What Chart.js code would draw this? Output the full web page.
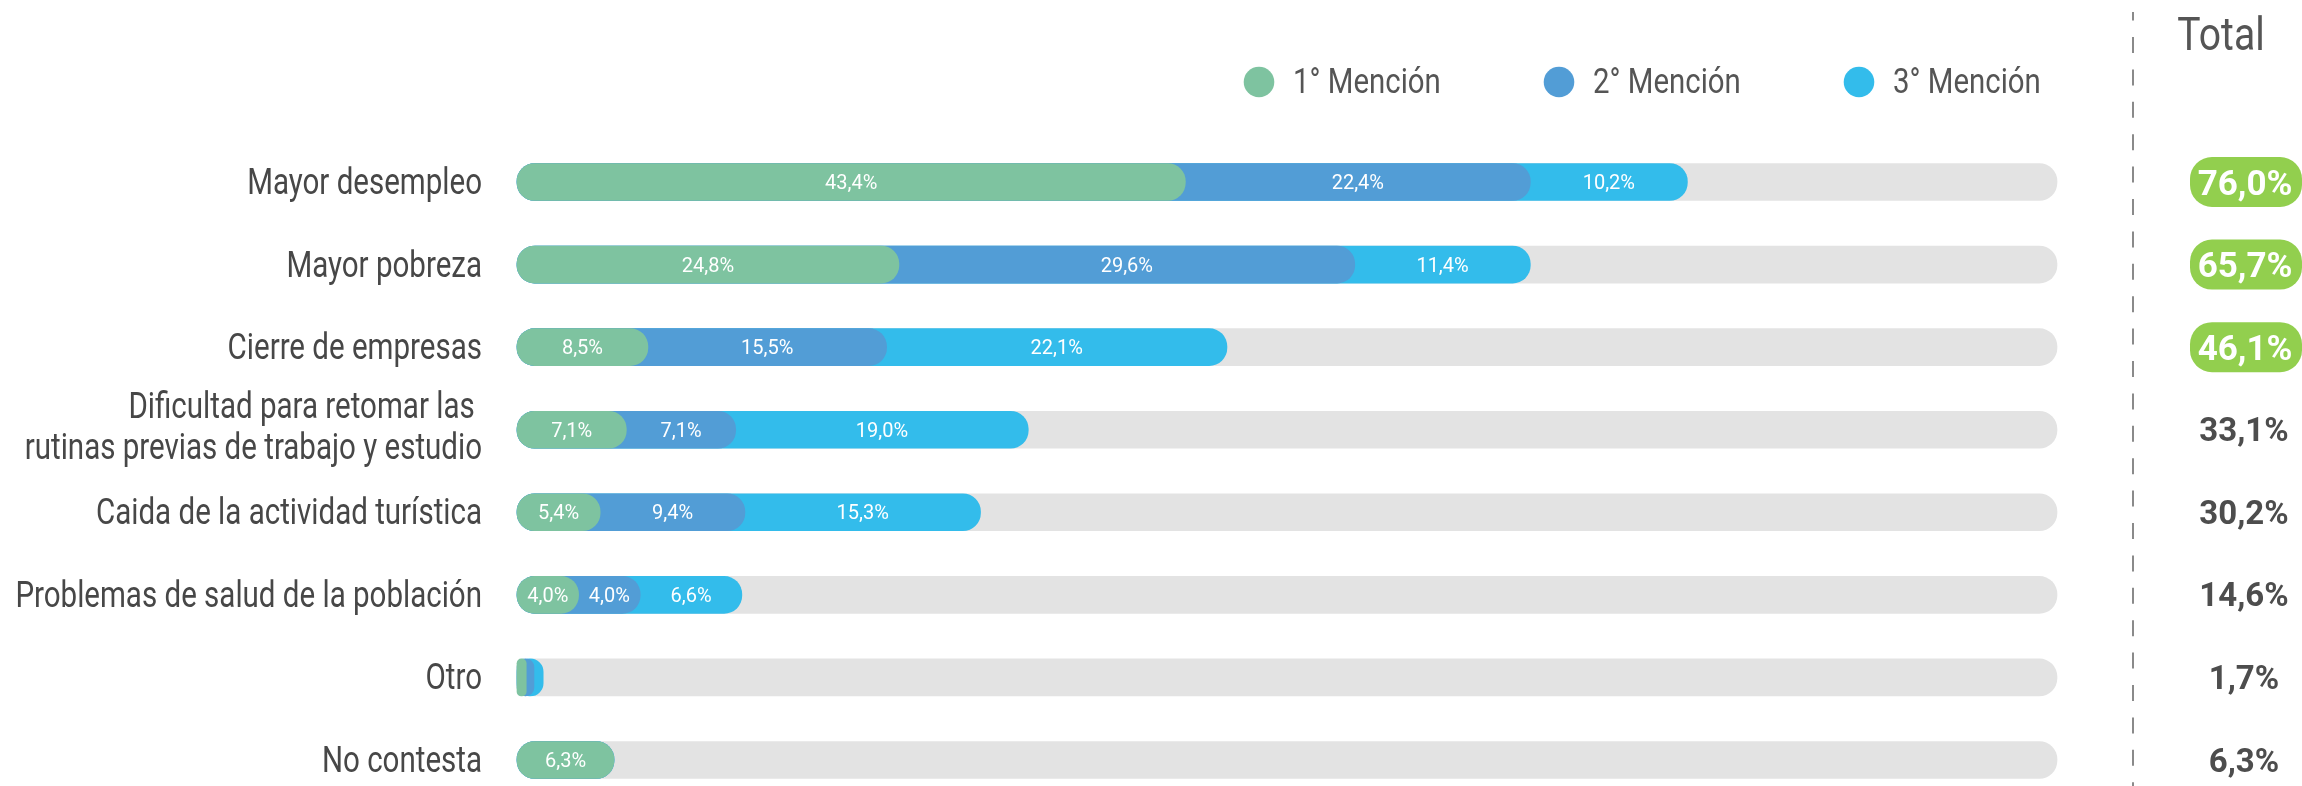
<!DOCTYPE html>
<html><head><meta charset="utf-8">
<script src="https://cdn.jsdelivr.net/npm/chart.js@4/dist/chart.umd.min.js"></script>
<style>html,body{margin:0;padding:0;background:#fff;}#wrap{width:2302px;height:786px;position:relative;}</style>
</head><body><div id="wrap"><canvas id="c" width="2302" height="786"></canvas></div>
<script>
// ---- data ----
const categories = [
  ["Mayor desempleo"],
  ["Mayor pobreza"],
  ["Cierre de empresas"],
  ["Dificultad para retomar las ", "rutinas previas de trabajo y estudio"],
  ["Caida de la actividad turística"],
  ["Problemas de salud de la población"],
  ["Otro"],
  ["No contesta"]
];
const seriesNames = ["1° Mención", "2° Mención", "3° Mención"];
const mencion1 = [43.4, 24.8, 8.5, 7.1, 5.4, 4.0, 0.6, 6.3];
const mencion2 = [22.4, 29.6, 15.5, 7.1, 9.4, 4.0, 0.5, 0];
const mencion3 = [10.2, 11.4, 22.1, 19.0, 15.3, 6.6, 0.6, 0];
const totals   = [76.0, 65.7, 46.1, 33.1, 30.2, 14.6, 1.7, 6.3];
const highlightedTotals = [true, true, true, false, false, false, false, false];
const trackMax = 100;
const totalTitle = "Total";

// ---- styles ----
const colors = ["#7EC3A0", "#529DD6", "#33BCEB"];
const trackColor = "#E3E3E3";
const badgeColor = "#92CF4E";
const textColor = "#474747";

const series = [mencion1, mencion2, mencion3];
const cumulative = series.map((s, k) => s.map((v, i) => {
  let sum = 0; for (let j = 0; j <= k; j++) sum += series[j][i]; return +sum.toFixed(2);
}));
const fmt = v => v.toFixed(1).replace('.', ',') + '%';

function squeezeText(ctx, text, x, y, factor) {
  const w = ctx.measureText(text).width;
  ctx.fillText(text, x, y, w * factor);
}
function roundRect(ctx, x, y, w, h, r) {
  ctx.beginPath();
  ctx.moveTo(x + r, y);
  ctx.lineTo(x + w - r, y);
  ctx.arcTo(x + w, y, x + w, y + r, r);
  ctx.lineTo(x + w, y + h - r);
  ctx.arcTo(x + w, y + h, x + w - r, y + h, r);
  ctx.lineTo(x + r, y + h);
  ctx.arcTo(x, y + h, x, y + h - r, r);
  ctx.lineTo(x, y + r);
  ctx.arcTo(x, y, x + r, y, r);
  ctx.closePath();
}

const overlay = {
  id: 'overlay',
  afterDatasetsDraw(chart) {
    const ctx = chart.ctx, xs = chart.scales.x, ys = chart.scales.y;
    ctx.save();
    // value labels inside segments
    ctx.font = '20px Roboto';
    ctx.fillStyle = '#FFFFFF';
    ctx.textAlign = 'center';
    ctx.textBaseline = 'alphabetic';
    categories.forEach((c, i) => {
      let start = 0;
      series.forEach(s => {
        const v = s[i];
        if (v >= 2) {
          ctx.fillText(fmt(v), xs.getPixelForValue(start + v / 2), ys.getPixelForValue(i) + 7);
        }
        start += v;
      });
    });
    // category labels
    ctx.fillStyle = textColor;
    ctx.font = '36px Roboto';
    ctx.textAlign = 'right';
    const lx = xs.left - 35;
    categories.forEach((lines, i) => {
      const y = ys.getPixelForValue(i);
      if (lines.length === 1) {
        squeezeText(ctx, lines[0], lx, y + 12, 0.82);
      } else {
        squeezeText(ctx, lines[0], lx, y - 12, 0.82);
        squeezeText(ctx, lines[1], lx, y + 29, 0.82);
      }
    });
    // legend
    const legendX = [1259, 1559, 1859];
    seriesNames.forEach((name, k) => {
      ctx.fillStyle = colors[k];
      ctx.beginPath();
      ctx.arc(legendX[k], 82, 15.3, 0, Math.PI * 2);
      ctx.fill();
      ctx.fillStyle = '#555555';
      ctx.font = '35px Roboto';
      ctx.textAlign = 'left';
      squeezeText(ctx, name, legendX[k] + 34, 93, 0.84);
    });
    // dashed separator
    ctx.strokeStyle = '#8A8A8A';
    ctx.lineWidth = 2;
    ctx.setLineDash([16, 16.4]);
    ctx.lineDashOffset = 7.4;
    ctx.beginPath();
    ctx.moveTo(2133, 12);
    ctx.lineTo(2133, 786);
    ctx.stroke();
    ctx.setLineDash([]);
    // Total header
    ctx.fillStyle = '#555555';
    ctx.font = '46px Roboto';
    ctx.textAlign = 'center';
    squeezeText(ctx, totalTitle, 2221, 50, 0.85);
    // totals
    totals.forEach((t, i) => {
      const y = ys.getPixelForValue(i);
      if (highlightedTotals[i]) {
        ctx.fillStyle = badgeColor;
        roundRect(ctx, 2190, y - 25, 112, 50, 22);
        ctx.fill();
        ctx.fillStyle = '#FFFFFF';
        ctx.font = 'bold 35px Roboto';
        ctx.textAlign = 'center';
        ctx.fillText(fmt(t), 2245, y + 12.5);
      } else {
        ctx.fillStyle = '#4D4D4D';
        ctx.font = 'bold 33px Roboto';
        ctx.textAlign = 'center';
        ctx.fillText(fmt(t), 2244, y + 11.5);
      }
    });
    ctx.restore();
  }
};

const barCommon = {
  grouped: false,
  barThickness: 37,
  borderSkipped: false,
  borderRadius: 18,
  borderWidth: 0,
  clip: false
};

new Chart(document.getElementById('c'), {
  type: 'bar',
  data: {
    labels: categories.map(l => l.join(' ')),
    datasets: [
      Object.assign({ label: seriesNames[0], data: cumulative[0], backgroundColor: colors[0] }, barCommon),
      Object.assign({ label: seriesNames[1], data: cumulative[1], backgroundColor: colors[1] }, barCommon),
      Object.assign({ label: seriesNames[2], data: cumulative[2], backgroundColor: colors[2] }, barCommon),
      Object.assign({ label: 'track', data: categories.map(() => trackMax), backgroundColor: trackColor }, barCommon)
    ]
  },
  options: {
    indexAxis: 'y',
    responsive: false,
    animation: false,
    events: [],
    layout: { padding: { left: 517, right: 245, top: 182, bottom: 26 } },
    scales: {
      x: { display: false, min: 0, max: trackMax },
      y: { display: false, offset: false }
    },
    plugins: { legend: { display: false }, tooltip: { enabled: false } }
  },
  plugins: [overlay]
});
</script>
</body></html>
